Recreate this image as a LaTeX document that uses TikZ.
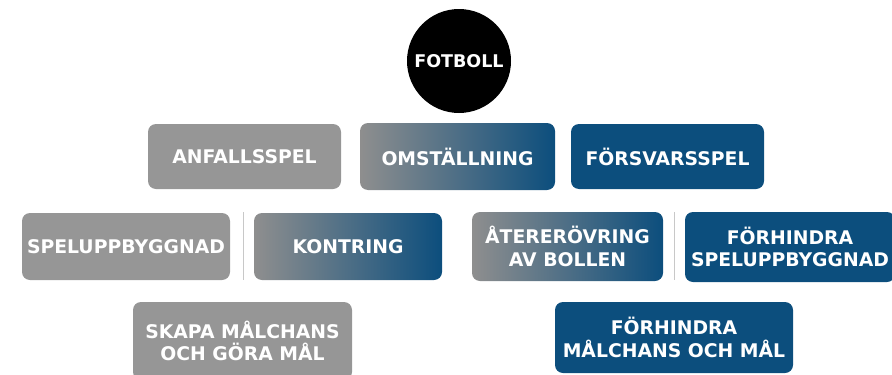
\documentclass[tikz,border=0pt]{standalone}
\usepackage{fontspec}
\setmainfont{DejaVu Sans}
\definecolor{ballgrey}{RGB}{150,150,150}
\definecolor{ballblue}{RGB}{12,78,125}
\definecolor{divgrey}{RGB}{200,200,200}
\tikzset{
  box/.style={rounded corners=8pt, inner sep=0pt, align=center, text=white,
    font=\fontsize{18.8}{22.5}\selectfont\bfseries},
  greybox/.style={box, fill=ballgrey},
  bluebox/.style={box, fill=ballblue},
  mixbox/.style={box, left color=ballgrey!95!black, right color=ballblue},
  divider/.style={divgrey, line width=1pt}
}
\begin{document}
\begin{tikzpicture}[x=1pt, y=-1pt]
    \useasboundingbox (0, 0) rectangle (892, 375);
    % top
    \node [circle, fill=black, minimum size=104pt, inner sep=0pt, text=white,
           font=\fontsize{17.5}{21}\selectfont\bfseries] (ball) at (459, 61) {FOTBOLL};
    % first row
    \node [greybox, minimum width=193pt, minimum height=65pt] (attack) at (244.5, 156.5) {ANFALLSSPEL};
    \node [mixbox, minimum width=195pt, minimum height=67pt] (switch) at (457.5, 156.5) {OMSTÄLLNING};
    \node [bluebox, minimum width=193pt, minimum height=65pt] (defend) at (667.5, 156.5) {FÖRSVARSSPEL};
    % second row
    \node [greybox, minimum width=208pt, minimum height=67pt] (buildup) at (126, 246.5) {SPELUPPBYGGNAD};
    \node [mixbox, minimum width=188pt, minimum height=67pt] (counter) at (348, 246.5) {KONTRING};
    \node [mixbox, minimum width=191pt, minimum height=69pt] (regain) at (567.5, 246.5) {ÅTERERÖVRING\\AV BOLLEN};
    \node [bluebox, minimum width=210pt, minimum height=70pt] (stopbuild) at (790, 247) {FÖRHINDRA\\SPELUPPBYGGNAD};
    \coordinate (divA top) at (243, 212);
    \coordinate (divA bot) at (243, 280);
    \coordinate (divB top) at (674, 212);
    \coordinate (divB bot) at (674, 280);
    \draw [divider] (divA top) -- (divA bot);
    \draw [divider] (divB top) -- (divB bot);
    % third row
    \node [greybox, minimum width=219pt, minimum height=78pt] (score) at (242.5, 341) {SKAPA MÅLCHANS\\OCH GÖRA MÅL};
    \node [bluebox, minimum width=238pt, minimum height=71pt] (stopgoal) at (674, 337.5) {FÖRHINDRA\\MÅLCHANS OCH MÅL};
  \end{tikzpicture}
\end{document}
